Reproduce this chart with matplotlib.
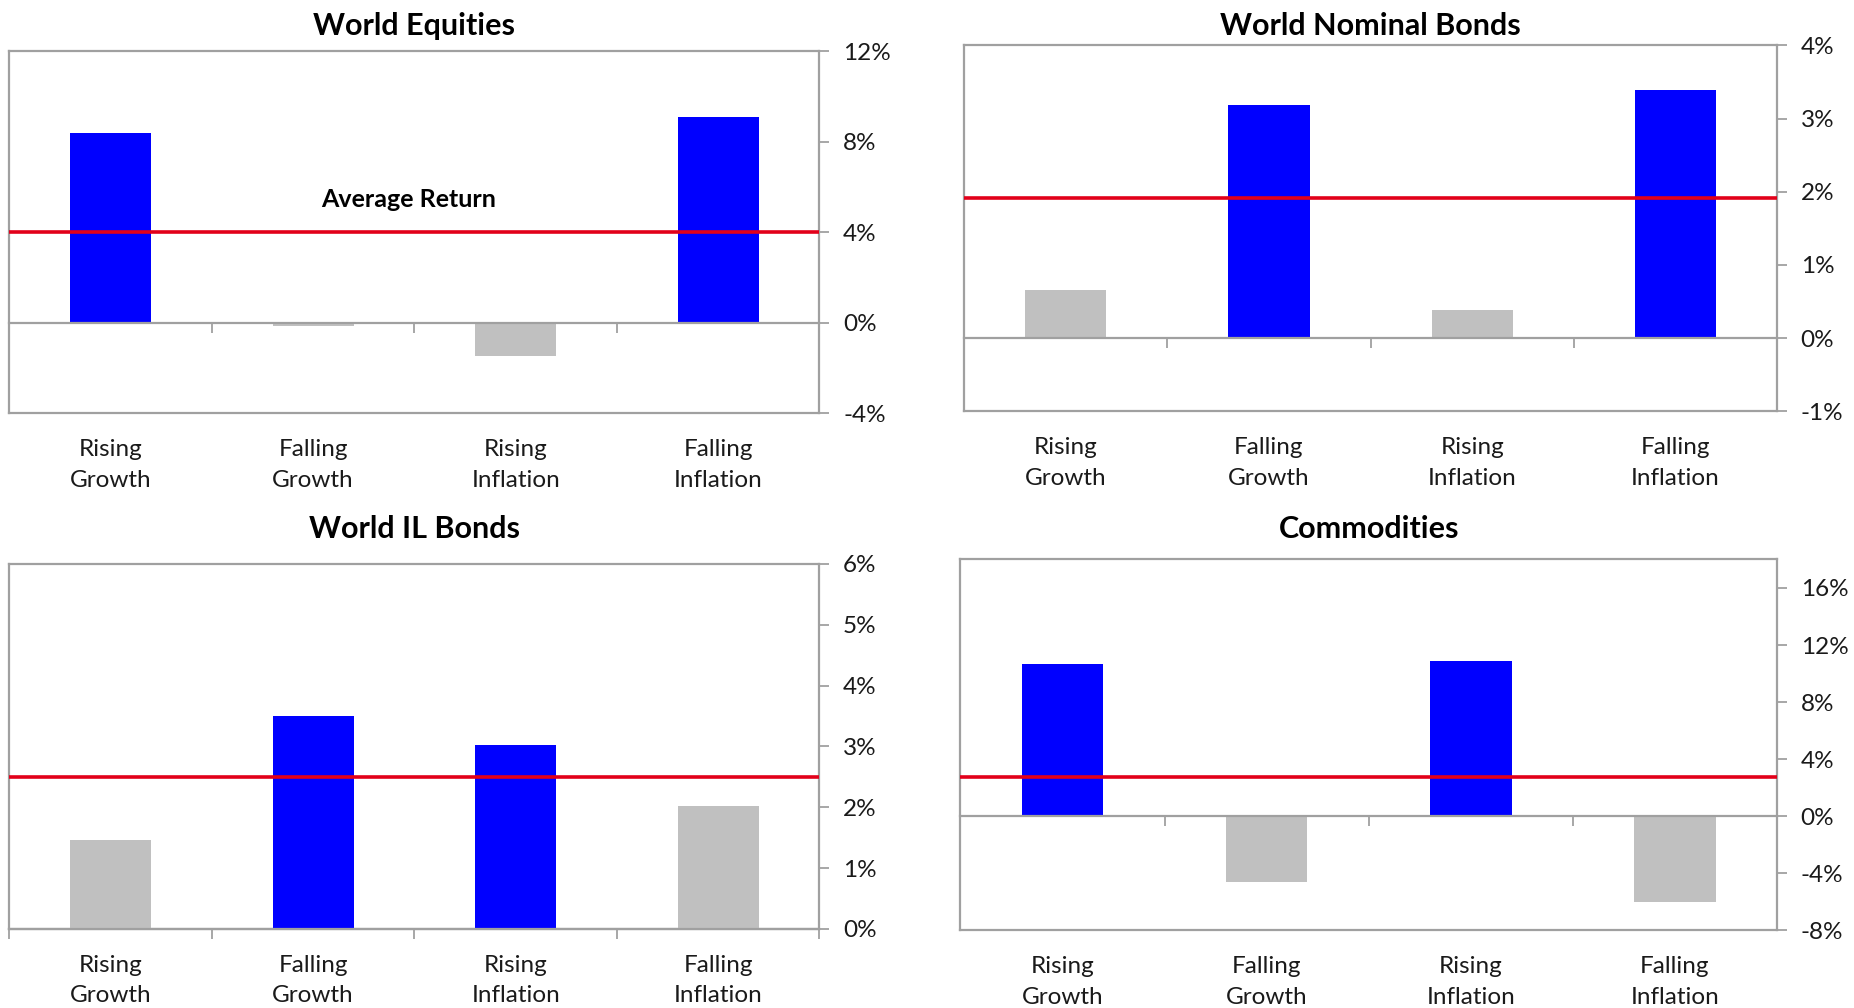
import matplotlib
matplotlib.use('Agg')
from matplotlib import pyplot as plt
from matplotlib.ticker import FuncFormatter

plt.rcParams['font.family'] = ['Lato', 'DejaVu Sans']

categories = ['Rising\nGrowth', 'Falling\nGrowth', 'Rising\nInflation', 'Falling\nInflation']

titles = ['World Equities', 'World Nominal Bonds', 'World IL Bonds', 'Commodities']
equities = [8.4, -0.15, -1.45, 9.1]
nominal_bonds = [0.66, 3.19, 0.39, 3.39]
il_bonds = [1.46, 3.50, 3.03, 2.02]
commodities = [10.7, -4.6, 10.9, -6.0]
averages = [4.0, 1.92, 2.50, 2.72]
# bars above the average are highlighted
ylims = [(-4, 12), (-1, 4), (0, 6), (-8, 18)]
yticks = [range(-4, 13, 4), range(-1, 5, 1), range(0, 7, 1), range(-8, 17, 4)]

BLUE = '#0000ff'
GREY = '#c0c0c0'
RED = '#e2001a'
FRAME = '#a0a0a0'
TXT = '#1a1a1a'

# axes boxes in figure fractions (left, bottom, width, height)
boxes = [(0.005, 0.590, 0.437, 0.359),
         (0.520, 0.592, 0.4385, 0.363),
         (0.005, 0.0785, 0.437, 0.362),
         (0.518, 0.077, 0.4405, 0.368)]
title_y = [0.9742, 0.9742, 0.4756, 0.4756]

fig = plt.figure(figsize=(18.54, 10.08), dpi=100)
series = [equities, nominal_bonds, il_bonds, commodities]
x = list(range(len(categories)))

for i, vals in enumerate(series):
    ax = fig.add_axes(boxes[i])
    cols = [BLUE if v > averages[i] else GREY for v in vals]
    ax.bar(x, vals, width=0.4, color=cols, zorder=2)
    ax.axhline(averages[i], color=RED, lw=2.6, zorder=3)
    ax.set_xlim(-0.5, 3.5)
    ax.set_ylim(*ylims[i])

    # zero line with category separators
    ax.spines['bottom'].set_position(('data', 0))
    ax.set_xticks([])
    ax.set_xticks([-0.5, 0.5, 1.5, 2.5, 3.5], minor=True)
    ax.tick_params(axis='x', which='minor', direction='out', length=7,
                   width=1.3, color=FRAME)
    for s in ['top', 'left', 'right', 'bottom']:
        ax.spines[s].set_color(FRAME)
        ax.spines[s].set_linewidth(1.6)

    # category labels along the lower edge of the box
    sec = ax.secondary_xaxis('bottom')
    sec.set_xticks(x)
    sec.set_xticklabels(categories, fontsize=17.5, color=TXT, linespacing=1.57)
    sec.tick_params(length=0, pad=18.5)
    sec.spines['bottom'].set_color(FRAME)
    sec.spines['bottom'].set_linewidth(1.6)

    ax.yaxis.tick_right()
    ax.set_yticks(list(yticks[i]))
    ax.yaxis.set_major_formatter(FuncFormatter(lambda v, p: '%d%%' % v))
    ax.tick_params(axis='y', direction='out', length=7, width=1.3,
                   color=FRAME, labelsize=17.5, labelcolor=TXT, pad=10)

    b = boxes[i]
    fig.text(b[0] + b[2] / 2, title_y[i], titles[i], ha='center', va='center',
             fontsize=22, fontweight='bold', color='black')

    if i == 0:
        ax.text(1.47, 5.45, 'Average Return', ha='center', va='center',
                fontsize=18, fontweight='bold', color='black')

fig.savefig('out.png', dpi=100)
